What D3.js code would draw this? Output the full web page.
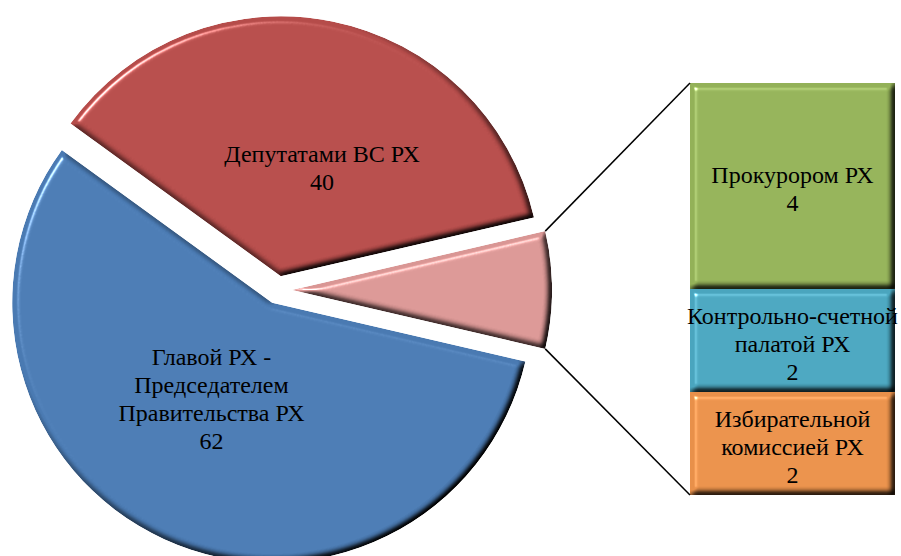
<!DOCTYPE html>
<html>
<head>
<meta charset="utf-8">
<script src="https://cdn.jsdelivr.net/npm/d3@7"></script>
<style>
html,body{margin:0;padding:0;background:#fff;}
svg{display:block;}
text{font-family:"Liberation Serif","Times New Roman",serif;font-size:24px;fill:#000;}
</style>
</head>
<body>
<svg id="chart" width="901" height="556"></svg>
<script>
// Pie data
const pieLabels = [["Главой РХ -", "Председателем", "Правительства РХ"], ["Депутатами ВС РХ"], null];
const pieValues = [62, 40, 8];
const pieColors = ["#4A7AB2", "#B54C4A", "#D99694"];
// Bar ("other") breakdown
const barLabels = [["Прокурором РХ"], ["Контрольно-счетной", "палатой РХ"], ["Избирательной", "комиссией РХ"]];
const barValues = [4, 2, 2];
const barColors = ["#93B158", "#4AA5BE", "#E8904A"];

const W = 901, H = 556;
const svg = d3.select("#chart");

// bevel filter
const defs = svg.append("defs");
function bevel(id, std, scale) {
  const f = defs.append("filter").attr("id", id)
    .attr("color-interpolation-filters", "sRGB")
    .attr("x", "-5%").attr("y", "-5%").attr("width", "110%").attr("height", "110%");
  f.append("feGaussianBlur").attr("in", "SourceAlpha").attr("stdDeviation", std).attr("result", "blur");
  const el = 50;
  const dl = f.append("feDiffuseLighting").attr("in", "blur").attr("surfaceScale", scale)
    .attr("diffuseConstant", 1 / Math.sin(el * Math.PI / 180)).attr("lighting-color", "#fff").attr("result", "diff");
  dl.append("feDistantLight").attr("azimuth", 225).attr("elevation", el);
  f.append("feComposite").attr("in", "diff").attr("in2", "SourceGraphic")
    .attr("operator", "arithmetic").attr("k1", 1).attr("k2", 0).attr("k3", 0).attr("k4", 0).attr("result", "shaded");
  const sl = f.append("feSpecularLighting").attr("in", "blur").attr("surfaceScale", scale)
    .attr("specularConstant", 0.9).attr("specularExponent", 60).attr("lighting-color", "#fff").attr("result", "spec");
  sl.append("feDistantLight").attr("azimuth", 225).attr("elevation", el);
  f.append("feComposite").attr("in", "spec").attr("in2", "SourceAlpha").attr("operator", "in").attr("result", "specIn");
  f.append("feComposite").attr("in", "shaded").attr("in2", "specIn")
    .attr("operator", "arithmetic").attr("k1", 0).attr("k2", 1).attr("k3", 0.8).attr("k4", 0).attr("result", "lit");
  f.append("feComposite").attr("in", "lit").attr("in2", "SourceAlpha").attr("operator", "in");
}
bevel("bevel", 3.2, 5);

// Pie geometry
const cx = 278, cy = 290, R = 260, explode = 14;
const total = d3.sum(pieValues);
const half = Math.PI * pieValues[2] / total; // half of "other" slice
const start = Math.PI / 2 + half;
const pie = d3.pie().sort(null).startAngle(start).endAngle(start + 2 * Math.PI);
const arcs = pie(pieValues);
const arc = d3.arc().innerRadius(0).outerRadius(R);

const pieG = svg.append("g").attr("transform", `translate(${cx},${cy})`);
arcs.forEach((a, i) => {
  const mid = (a.startAngle + a.endAngle) / 2;
  const ox = explode * Math.sin(mid), oy = -explode * Math.cos(mid);
  a.ox = ox; a.oy = oy; a.mid = mid;
  pieG.append("path")
    .attr("d", arc(a))
    .attr("transform", `translate(${ox},${oy})`)
    .attr("fill", pieColors[i])
    .attr("filter", "url(#bevel)");
});

// Bar of "other"
const bx0 = 690, bx1 = 895;
const y = d3.scaleLinear().domain([0, d3.sum(barValues)]).range([83, 495]);
let acc = 0;
const barG = svg.append("g");
const segs = barValues.map((v, i) => { const s = {v, i, y0: y(acc), y1: y(acc + v)}; acc += v; return s; });
segs.forEach(s => {
  barG.append("rect")
    .attr("x", bx0).attr("y", s.y0).attr("width", bx1 - bx0).attr("height", s.y1 - s.y0)
    .attr("fill", barColors[s.i]).attr("filter", "url(#bevel)");
});

// Connector lines
const other = arcs[2];
const pOuter = ang => [cx + other.ox + R * Math.sin(ang), cy + other.oy - R * Math.cos(ang)];
const a1 = pOuter(other.endAngle), a2 = pOuter(other.startAngle);
const upper = a1[1] < a2[1] ? a1 : a2, lower = a1[1] < a2[1] ? a2 : a1;
svg.append("line").attr("x1", upper[0]).attr("y1", upper[1]).attr("x2", bx0).attr("y2", y(0))
  .attr("stroke", "#000").attr("stroke-width", 1.5);
svg.append("line").attr("x1", lower[0]).attr("y1", lower[1]).attr("x2", bx0).attr("y2", y(d3.sum(barValues)))
  .attr("stroke", "#000").attr("stroke-width", 1.5);

// Labels
const LH = 28;
function multiline(g, x, yc, lines) {
  const n = lines.length;
  lines.forEach((t, k) => {
    g.append("text").attr("x", x).attr("y", yc + (k - (n - 1) / 2) * LH)
      .attr("dy", "0.34em").attr("text-anchor", "middle")
      .attr("font-family", "Liberation Serif, Times New Roman, serif").text(t);
  });
}
const lblG = svg.append("g");
const shift = 8.5 * Math.PI / 180, lr = 115;
arcs.forEach((a, i) => {
  if (!pieLabels[i]) return;
  const ang = a.mid + shift;
  const x = cx + a.ox + lr * Math.sin(ang);
  const yy = cy + a.oy - lr * Math.cos(ang);
  multiline(lblG, x + 2, yy, pieLabels[i].concat([String(pieValues[i])]));
});
segs.forEach(s => {
  multiline(lblG, (bx0 + bx1) / 2, (s.y0 + s.y1) / 2 + 3, barLabels[s.i].concat([String(s.v)]));
});
</script>
</body>
</html>
